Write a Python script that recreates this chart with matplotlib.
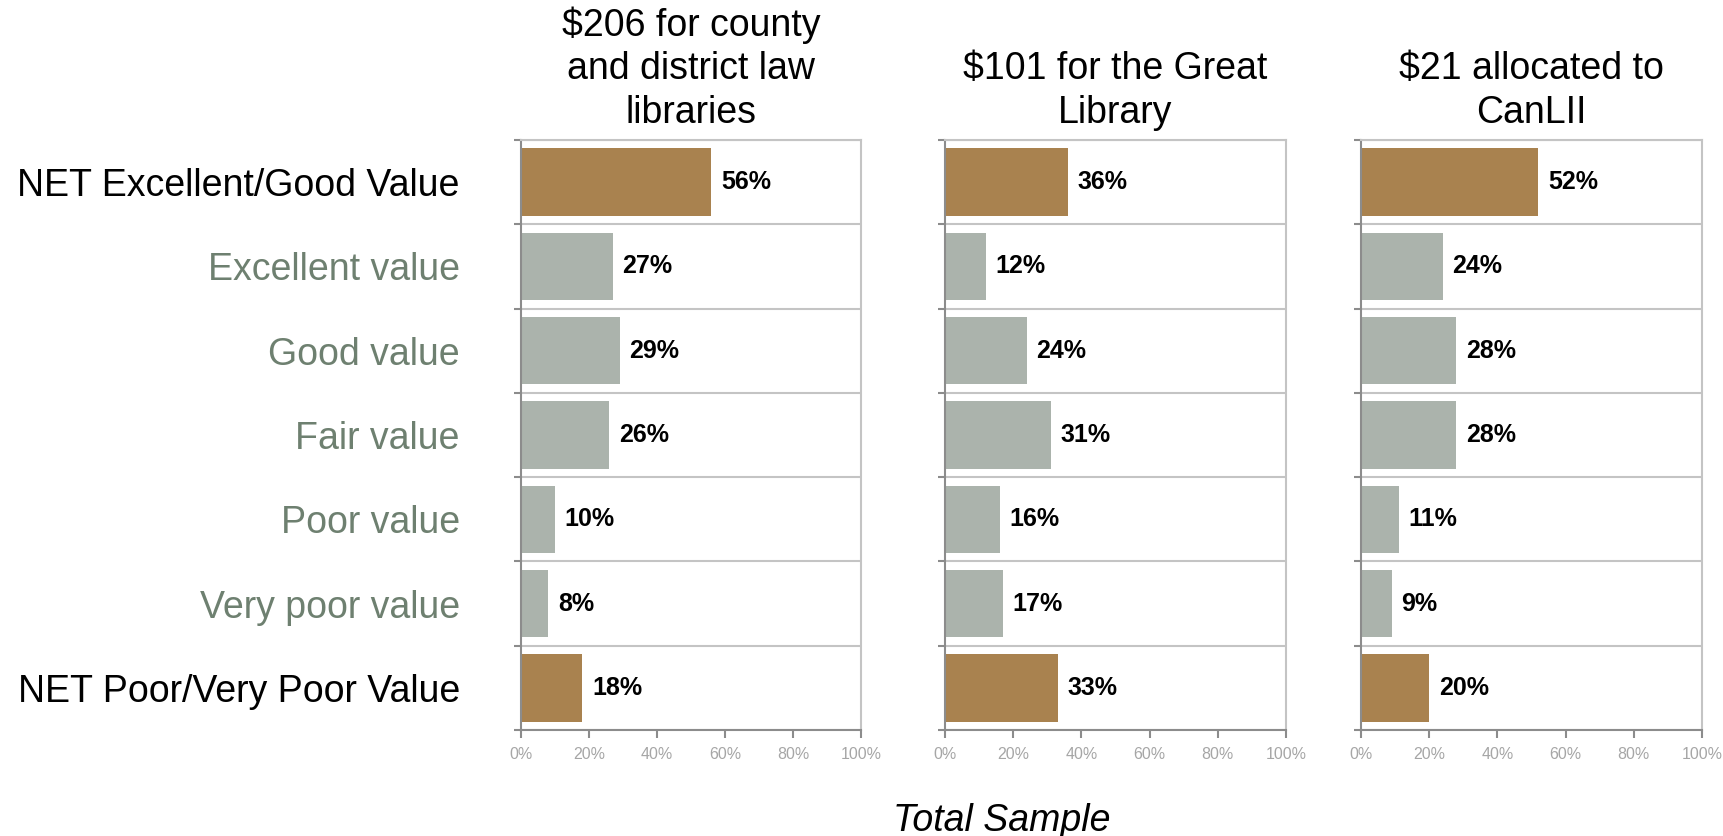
import numpy as np
import matplotlib.pyplot as plt
from matplotlib.ticker import PercentFormatter

plt.rcParams['font.family'] = ['Liberation Sans', 'DejaVu Sans']

categories = ['NET Excellent/Good Value', 'Excellent value', 'Good value', 'Fair value',
              'Poor value', 'Very poor value', 'NET Poor/Very Poor Value']
is_net = [True, False, False, False, False, False, True]

titles = ['$206 for county\nand district law\nlibraries',
          '$101 for the Great\nLibrary',
          '$21 allocated to\nCanLII']
county_vals = [56, 27, 29, 26, 10, 8, 18]
great_lib_vals = [36, 12, 24, 31, 16, 17, 33]
canlii_vals = [52, 24, 28, 28, 11, 9, 20]
panels = [county_vals, great_lib_vals, canlii_vals]

brown = '#A9824F'
grey = '#ABB3AC'
label_green = '#6E8070'
dark_spine = '#8C8C8C'
light_line = '#C4C4C4'

fig = plt.figure(figsize=(17.23, 8.36), dpi=100)
lefts = [521, 945, 1361]
widths = [340, 341, 341]
bottom = 1 - 730 / 836
height = (730 - 140) / 836

y = np.arange(len(categories))
for i, vals in enumerate(panels):
    ax = fig.add_axes([lefts[i] / 1723, bottom, widths[i] / 1723, height])
    colors = [brown if n else grey for n in is_net]
    ax.barh(y, vals, height=0.8, color=colors)
    for yy, v in zip(y, vals):
        ax.annotate(f'{v}%', (v, yy), xytext=(7, 0), textcoords='offset points',
                    va='center', ha='left', fontsize=18, fontweight='bold')
    ax.set_xlim(0, 100)
    ax.set_ylim(len(categories) - 0.5, -0.5)
    ax.set_xticks(np.arange(0, 101, 20))
    ax.xaxis.set_major_formatter(PercentFormatter(decimals=0))
    ax.tick_params(axis='x', colors=dark_spine, labelcolor='#A6A6A6', labelsize=11.5,
                   length=6, width=1.5, direction='out', pad=6)
    ax.set_yticks(np.arange(-0.5, len(categories), 1))
    ax.set_yticklabels([])
    ax.tick_params(axis='y', colors=dark_spine, length=5, width=1.5)
    ax.grid(axis='y', color=light_line, linewidth=1.5)
    ax.set_axisbelow(True)
    for s in ['left', 'bottom']:
        ax.spines[s].set_color(dark_spine)
        ax.spines[s].set_linewidth(1.5)
    for s in ['top', 'right']:
        ax.spines[s].set_color(light_line)
        ax.spines[s].set_linewidth(1.5)
    ax.set_title(titles[i], fontsize=27, linespacing=1.28, pad=12)
    if i == 0:
        for yy, cat, n in zip(y, categories, is_net):
            ax.text(-0.18, yy, cat, transform=ax.get_yaxis_transform(), ha='right',
                    va='center_baseline', fontsize=27, color='black' if n else label_green)

fig.text(1002 / 1723, 1 - 821 / 836, 'Total Sample', ha='center', va='center',
         fontsize=27, style='italic')

fig.savefig('out.png', dpi=100, facecolor='white')
